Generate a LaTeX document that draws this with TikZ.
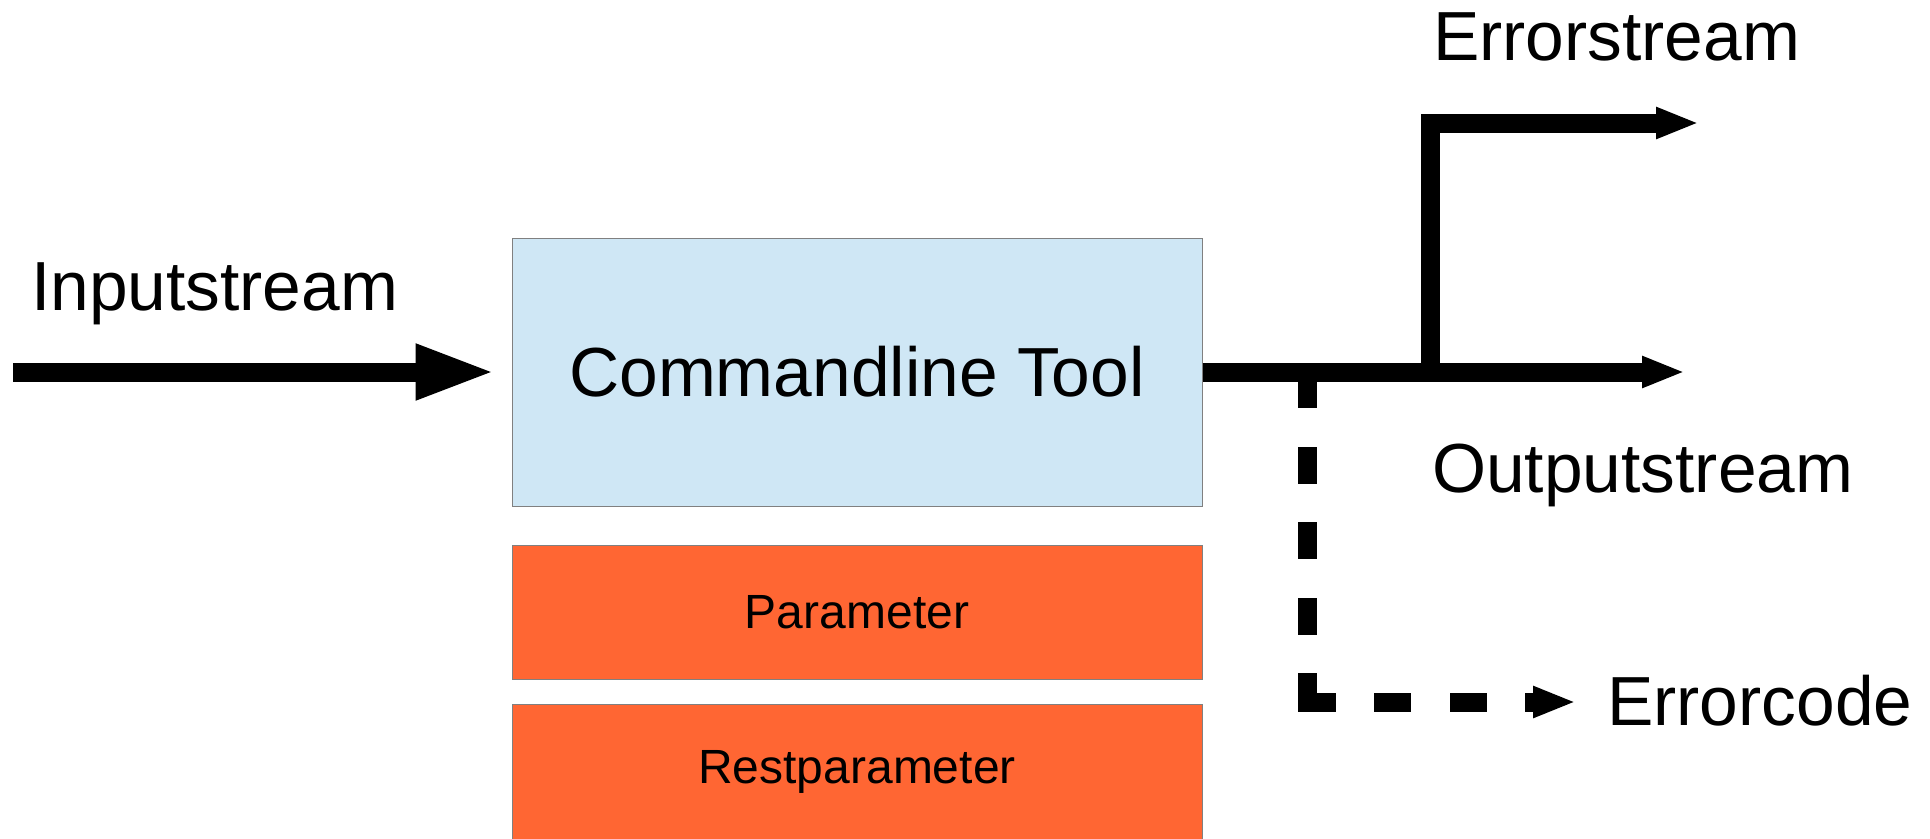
\documentclass[tikz,border=0pt]{standalone}
\usepackage{fontspec}
\setmainfont{Liberation Sans}
\usetikzlibrary{arrows.meta}
\definecolor{boxblue}{HTML}{CFE7F5}
\definecolor{boxorange}{HTML}{FF6633}
\definecolor{boxline}{HTML}{808080}
\tikzset{
  bigfont/.style={font=\fontsize{69.5}{82}\selectfont},
  midfont/.style={font=\fontsize{48}{57}\selectfont},
  toolbox/.style={draw=boxline, line width=1pt, fill=boxblue, minimum width=690pt, minimum height=268pt, inner sep=0pt, bigfont},
  parbox/.style={draw=boxline, line width=1pt, fill=boxorange, minimum width=690pt, minimum height=134pt, inner sep=0pt, midfont},
  lbl/.style={anchor=base west, inner sep=0pt, bigfont},
  flow/.style={line width=19pt, line join=miter, line cap=butt},
  bigtip/.style={-{Triangle[length=80pt,width=51pt]}},
  smalltip/.style={-{Triangle[length=43pt,width=29pt]}},
}
\begin{document}
\begin{tikzpicture}[x=1pt,y=-1pt]
\useasboundingbox (0,0) rectangle (1930,838);
% boxes
\node[toolbox] (tool) at (857,372) {Commandline Tool};
\node[parbox] (param) at (857,612) {Parameter};
\node[parbox, minimum height=136pt] (rest) at (857,772) {Restparameter};
% coordinates
\coordinate (instart) at (13,372);
\coordinate (esplit) at (1430,372);
\coordinate (ecorner) at (1430,123);
\coordinate (eend) at (1699,123);
\coordinate (oend) at (1685,372);
\coordinate (dsplit) at (1307,373);
\coordinate (cend) at (1576,702);
% labels
\node[lbl] (linput) at (31,310) {Inputstream};
\node[lbl] (lerr) at (1433,60) {Errorstream};
\node[lbl] (lout) at (1432,492) {Outputstream};
\node[lbl] (lcode) at (1607,725) {Errorcode};
% connectors
\draw[flow, bigtip, shorten >=16pt] (instart) -- (tool.west);
\draw[flow, dash pattern=on 35pt off 39pt on 37pt off 38pt on 37pt off 39pt on 37pt off 38pt on 58pt off 38pt on 37pt off 39pt on 37pt off 38pt on 200pt off 10pt, smalltip] (dsplit) |- (cend);
\draw[flow, smalltip] (tool.east) -- (oend);
\draw[flow, smalltip] (esplit) -- (ecorner) -- (eend);
\end{tikzpicture}
\end{document}
